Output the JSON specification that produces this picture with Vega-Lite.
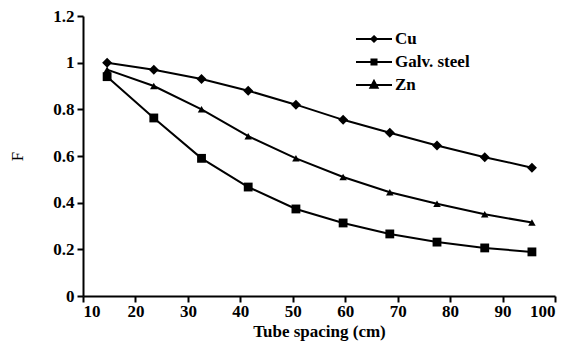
{
  "$schema": "https://vega.github.io/schema/vega-lite/v6.json",
  "width": 472,
  "height": 280,
  "autosize": "none",
  "padding": {"left": 83, "top": 16, "right": 16, "bottom": 56},
  "background": "white",
  "config": {
    "view": {"stroke": null},
    "font": "Liberation Serif",
    "axis": {
      "grid": false,
      "domainColor": "black",
      "domainWidth": 2,
      "tickColor": "black",
      "tickWidth": 2,
      "tickSize": 6,
      "labelFont": "Liberation Serif",
      "labelFontSize": 17,
      "labelFontWeight": "bold",
      "labelColor": "black",
      "titleFont": "Liberation Serif",
      "titleFontSize": 17,
      "titleFontWeight": "bold",
      "titleColor": "black"
    }
  },
  "data": {
    "values": [
      {"series": "Cu", "x": 14.6, "y": 1.0},
      {"series": "Cu", "x": 23.5, "y": 0.97},
      {"series": "Cu", "x": 32.6, "y": 0.93},
      {"series": "Cu", "x": 41.5, "y": 0.88},
      {"series": "Cu", "x": 50.6, "y": 0.82},
      {"series": "Cu", "x": 59.6, "y": 0.755},
      {"series": "Cu", "x": 68.5, "y": 0.70},
      {"series": "Cu", "x": 77.5, "y": 0.645},
      {"series": "Cu", "x": 86.6, "y": 0.595},
      {"series": "Cu", "x": 95.6, "y": 0.55},
      {"series": "Galv. steel", "x": 14.6, "y": 0.94},
      {"series": "Galv. steel", "x": 23.5, "y": 0.763},
      {"series": "Galv. steel", "x": 32.6, "y": 0.59},
      {"series": "Galv. steel", "x": 41.5, "y": 0.467},
      {"series": "Galv. steel", "x": 50.6, "y": 0.373},
      {"series": "Galv. steel", "x": 59.6, "y": 0.313},
      {"series": "Galv. steel", "x": 68.5, "y": 0.266},
      {"series": "Galv. steel", "x": 77.5, "y": 0.231},
      {"series": "Galv. steel", "x": 86.6, "y": 0.206},
      {"series": "Galv. steel", "x": 95.6, "y": 0.189},
      {"series": "Zn", "x": 14.6, "y": 0.97},
      {"series": "Zn", "x": 23.5, "y": 0.90},
      {"series": "Zn", "x": 32.6, "y": 0.80},
      {"series": "Zn", "x": 41.5, "y": 0.685},
      {"series": "Zn", "x": 50.6, "y": 0.59},
      {"series": "Zn", "x": 59.6, "y": 0.51},
      {"series": "Zn", "x": 68.5, "y": 0.445},
      {"series": "Zn", "x": 77.5, "y": 0.395},
      {"series": "Zn", "x": 86.6, "y": 0.35},
      {"series": "Zn", "x": 95.6, "y": 0.315}
    ]
  },
  "encoding": {
    "x": {
      "field": "x", "type": "quantitative",
      "scale": {"domain": [10, 100], "nice": false, "zero": false},
      "axis": {"values": [10, 20, 30, 40, 50, 60, 70, 80, 90, 100], "title": "Tube spacing (cm)", "titlePadding": 4, "labelPadding": 1}
    },
    "y": {
      "field": "y", "type": "quantitative",
      "scale": {"domain": [0, 1.2], "nice": false},
      "axis": {"values": [0, 0.2, 0.4, 0.6, 0.8, 1, 1.2], "format": "~g", "title": "F", "titlePadding": 26, "labelPadding": 3, "titleFontWeight": "normal"}
    }
  },
  "layer": [
    {
      "mark": {"type": "line", "color": "black", "strokeWidth": 2},
      "encoding": {"detail": {"field": "series"}}
    },
    {
      "mark": {"type": "point", "filled": true, "color": "black", "opacity": 1},
      "encoding": {
        "shape": {"field": "series", "scale": {"domain": ["Cu", "Galv. steel", "Zn"], "range": ["diamond", "square", "triangle-up"]}, "legend": null},
        "size": {"field": "series", "scale": {"domain": ["Cu", "Galv. steel", "Zn"], "range": [100, 56, 130]}, "legend": null}
      }
    },
    {
      "mark": {"type": "point", "filled": false, "color": "black", "strokeWidth": 2, "opacity": 0},
      "encoding": {
        "shape": {
          "field": "series",
          "scale": {"domain": ["Cu", "Galv. steel", "Zn"], "range": [
            "M-2,0L2,0M0,-0.3L0.3,0L0,0.3L-0.3,0ZM0,-0.12L0.12,0L0,0.12L-0.12,0ZM0,-0.2L0,0.2",
            "M-2,0L2,0M-0.28,-0.28L0.28,-0.28L0.28,0.28L-0.28,0.28ZM-0.28,-0.12L0.28,-0.12M-0.28,0.12L0.28,0.12",
            "M-2,0L2,0M0,-0.45L0.4,0.3L-0.4,0.3ZM0,-0.15L0.15,0.15L-0.15,0.15Z"
          ]},
          "legend": {
            "title": null,
            "orient": "none",
            "legendX": 281,
            "legendY": 13,
            "symbolSize": 324,
            "symbolStrokeColor": "black",
            "symbolStrokeWidth": 2,
            "symbolOpacity": 1,
            "rowPadding": 5,
            "labelOffset": 11,
            "labelFont": "Liberation Serif",
            "labelFontSize": 17,
            "labelFontWeight": "bold",
            "labelColor": "black"
          }
        }
      }
    }
  ],
  "resolve": {"scale": {"shape": "independent", "size": "independent"}}
}
